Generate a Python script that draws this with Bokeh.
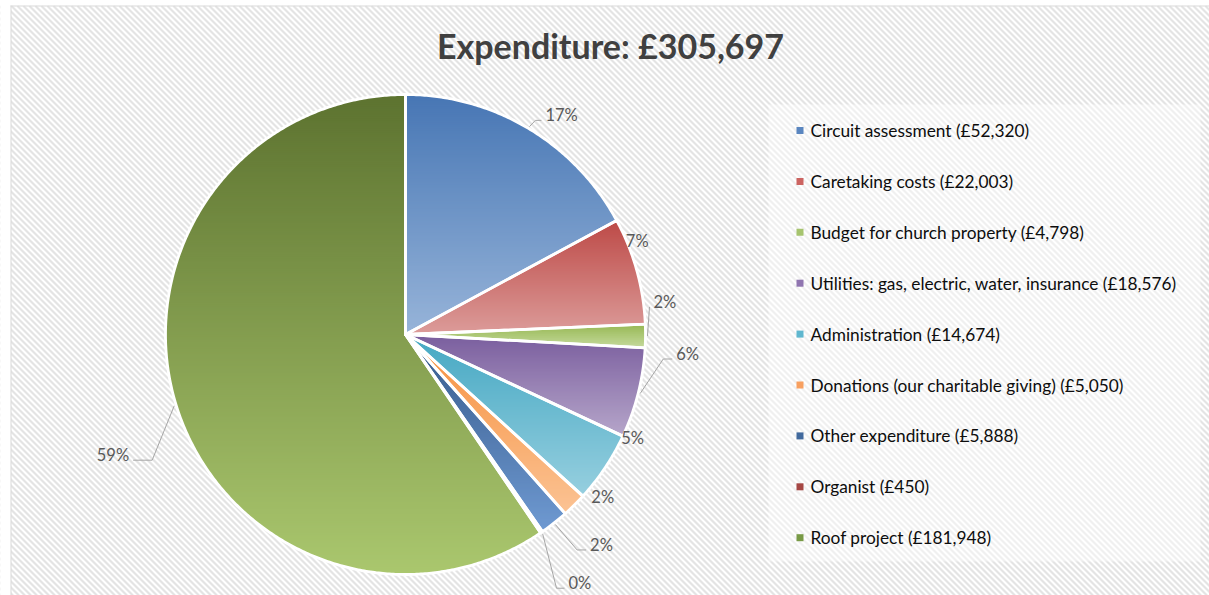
import numpy as np
from bokeh.plotting import figure
from bokeh.models import Range1d
from bokeh.embed import file_html
from bokeh.resources import INLINE
from bokeh.core.properties import value

# ---------------- data ----------------
categories = ["Circuit assessment", "Caretaking costs", "Budget for church property",
              "Utilities: gas, electric, water, insurance", "Administration",
              "Donations (our charitable giving)", "Other expenditure", "Organist", "Roof project"]
amounts = [52320, 22003, 4798, 18576, 14674, 5050, 5888, 450, 181948]
amount_labels = ["£52,320", "£22,003", "£4,798", "£18,576", "£14,674", "£5,050", "£5,888", "£450", "£181,948"]
pct_labels = ["17%", "7%", "2%", "6%", "5%", "2%", "2%", "0%", "59%"]
title_text = "Expenditure: £305,697"

# ---------------- styles ----------------
top_colors = ["#4776b4", "#bd4a47", "#97b853", "#7a5e9e", "#45a8c3", "#f68f3d", "#36598a", "#8a3533", "#5d7330"]
bottom_colors = ["#97b4d9", "#dc9c9a", "#c6da9e", "#b6a6ca", "#96cfdf", "#fbc394", "#6f9ad2", "#c65a57", "#aac76e"]
legend_colors = ["#5a86c0", "#cc6461", "#a6c46e", "#9075b0", "#5fb7cf", "#f8a060", "#41699d", "#a54744", "#789a46"]

# label placement tweaks (offset of text anchor from slice edge point) and leader lengths
label_dx = [17, -11, 8, 38, 16, 17, 36, 27, -47]
label_dy = [-13, -30, -34, -39, -30, -8, 22, 51, 50]
leader_h = [6, None, 0, 9, None, None, 9, 8, 19]

W, H = 1209, 595
CX, CY, R = 405, 334, 240

FONT = "Lato"

p = figure(width=W, height=H, output_backend="svg", toolbar_location=None,
           x_range=Range1d(0, W), y_range=Range1d(H, 0), min_border=0)
p.axis.visible = False
p.grid.visible = False
p.outline_line_color = None
p.background_fill_color = "white"
p.border_fill_color = "white"

# hatched chart background (diagonal stripes) + border
sx0 = np.arange(-H, W + 10, 6.0)
p.segment(x0=sx0, y0=[5.5] * len(sx0), x1=sx0 + (H - 5.5), y1=[H] * len(sx0),
          line_color="#e4e4e4", line_width=2.2)
p.quad(left=[-20], right=[10.5], top=[-20], bottom=[H + 20], fill_color="white", line_color=None)
p.quad(left=[-20], right=[W + 20], top=[-20], bottom=[5], fill_color="white", line_color=None)
p.segment(x0=[10.5], y0=[5], x1=[10.5], y1=[H + 5], line_color="#d9d9d9", line_width=1)
p.segment(x0=[10], y0=[5.5], x1=[W + 5], y1=[5.5], line_color="#d9d9d9", line_width=1)

# title
p.text(x=[610], y=[45], text=[title_text], text_font=value(FONT),
       text_font_style="bold", text_font_size="34px", text_color="#404040",
       text_align="center", text_baseline="middle")

# ---------------- pie ----------------
vals = np.array(amounts, dtype=float)
frac = vals / vals.sum()
ends = np.cumsum(frac) * 2 * np.pi
starts = ends - frac * 2 * np.pi
mids = (starts + ends) / 2


def hex2rgb(h):
    h = h.lstrip("#")
    return np.array([int(h[i:i + 2], 16) for i in (0, 2, 4)], dtype=float)


def rgb2hex(c):
    c = np.clip(np.round(c), 0, 255).astype(int)
    return "#%02x%02x%02x" % tuple(c)


def slice_poly(a0, a1):
    n = max(4, int(np.degrees(a1 - a0) * 2))
    th = np.linspace(a0, a1, n)
    xs = [CX] + list(CX + R * np.sin(th))
    ys = [CY] + list(CY - R * np.cos(th))
    return xs, ys


def clip_half(pts, keep, yv):
    out = []
    n = len(pts)
    for i in range(n):
        a = pts[i]
        b = pts[(i + 1) % n]
        ka, kb = keep(a), keep(b)
        if ka:
            out.append(a)
        if ka != kb:
            t = (yv - a[1]) / (b[1] - a[1])
            out.append((a[0] + t * (b[0] - a[0]), yv))
    return out


band_xs, band_ys, band_cols = [], [], []
out_xs, out_ys = [], []
for i in range(len(amounts)):
    xs, ys = slice_poly(starts[i], ends[i])
    out_xs.append(xs)
    out_ys.append(ys)
    y_min, y_max = min(ys), max(ys)
    c0, c1 = hex2rgb(top_colors[i]), hex2rgb(bottom_colors[i])
    step = 2.0
    y = y_min
    pts0 = list(zip(xs, ys))
    while y < y_max:
        y0, y1 = y, min(y + step + 1.0, y_max)
        pts = clip_half(pts0, lambda q, y0=y0: q[1] >= y0, y0)
        if pts:
            pts = clip_half(pts, lambda q, y1=y1: q[1] <= y1, y1)
        if pts and len(pts) >= 3:
            t = ((y + step / 2) - y_min) / max(1.0, (y_max - y_min))
            band_xs.append([q[0] for q in pts])
            band_ys.append([q[1] for q in pts])
            band_cols.append(rgb2hex(c0 + (c1 - c0) * t))
        y += step

p.patches(xs=band_xs, ys=band_ys, fill_color=band_cols, line_color=None)
p.patches(xs=out_xs, ys=out_ys, fill_color=None, line_color="white", line_width=2.8,
          line_join="round")

# ---------------- data labels ----------------
lx, ly, lalign = [], [], []
lead_xs, lead_ys = [], []
for i in range(len(amounts)):
    ex = CX + R * np.sin(mids[i])
    ey = CY - R * np.cos(mids[i])
    tx, ty = ex + label_dx[i], ey + label_dy[i]
    left_side = np.sin(mids[i]) < 0
    lx.append(tx)
    ly.append(ty)
    lalign.append("right" if left_side else "left")
    if leader_h[i] is not None:
        sx = CX + (R + 2) * np.sin(mids[i])
        sy = CY - (R + 2) * np.cos(mids[i])
        if left_side:
            endx = tx + 4
            elbx = endx + leader_h[i]
        else:
            endx = tx - 4
            elbx = endx - leader_h[i]
        endy = ty + 5
        lead_xs.append([sx, elbx, endx])
        lead_ys.append([sy, endy, endy])

p.multi_line(xs=lead_xs, ys=lead_ys, line_color="#a6a6a6", line_width=1)
p.text(x=lx, y=ly, text=pct_labels, text_align=lalign, text_baseline="middle",
       text_font=value(FONT), text_font_size="16.5px", text_color="#595959")

# ---------------- legend ----------------
p.quad(left=[768], right=[1200], top=[104], bottom=[561],
       fill_color="white", fill_alpha=0.45, line_color=None)
row_y = [130 + k * 50.9 for k in range(len(categories))]
p.rect(x=[799.5] * len(categories), y=row_y, width=7, height=7,
       fill_color=legend_colors, line_color=None)
leg_text = ["%s (%s)" % (c, a) for c, a in zip(categories, amount_labels)]
p.text(x=[810] * len(categories), y=row_y, text=leg_text, text_align="left",
       text_baseline="middle", text_font=value(FONT), text_font_size="17.3px",
       text_color="#0d0d0d")

open("out.html", "w").write(file_html(p, INLINE))
